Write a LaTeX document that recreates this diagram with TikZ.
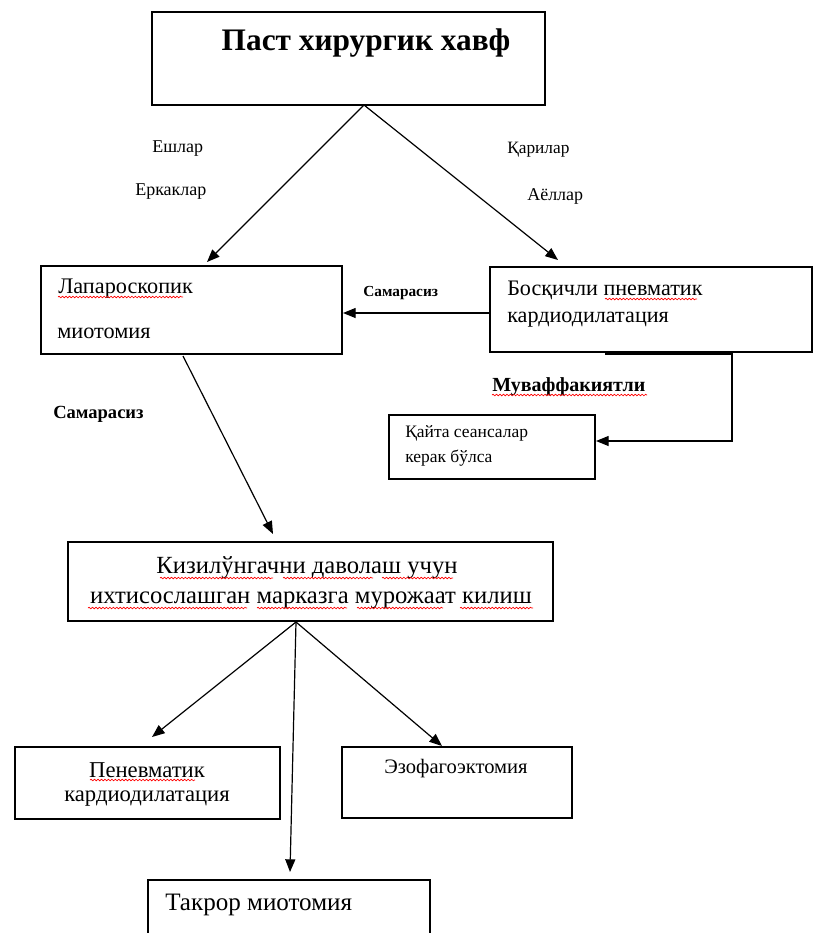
\documentclass[tikz,border=0pt]{standalone}
\usepackage{fontspec}
\setmainfont{Liberation Serif}
\usetikzlibrary{arrows.meta,fit,decorations.pathmorphing}
\tikzset{
  x=0.75pt,y=-0.75pt,
  box/.style={draw,line width=1.1pt,inner sep=0pt},
  txt/.style={inner sep=0pt,font=#1},
  arr/.style={line width=0.9pt,-{Triangle[length=9.5pt,width=7.5pt]}},
  wavy/.style={red,line width=0.5pt,decorate,decoration={snake,amplitude=0.6pt,segment length=2.6pt}}
}
\begin{document}
\begin{tikzpicture}
\useasboundingbox[fill=white] (0,0) rectangle (819,933);
% boxes
\node[box,fit={(152,12) (545,105)}] (top) {};
\node[box,fit={(41,266) (342,354)}] (lap) {};
\node[box,fit={(490,267) (812,352)}] (bos) {};
\node[box,fit={(389,415) (595,479)}] (qay) {};
\node[box,fit={(68,542) (553,621)}] (qiz) {};
\node[box,fit={(15,747) (280,819)}] (pnev) {};
\node[box,fit={(342,747) (572,818)}] (ezof) {};
\node[box,fit={(148,880) (430,945)}] (tak) {};
% texts
\node[txt=\fontsize{23.5}{27}\selectfont\bfseries,anchor=base] (ttop) at (366,50) {Паст хирургик хавф};
\node[txt=\fontsize{13.5}{16}\selectfont,anchor=base west] (t1) at (152,152) {Ешлар};
\node[txt=\fontsize{13.5}{16}\selectfont,anchor=base west] (t2) at (135,195) {Еркаклар};
\node[txt=\fontsize{13}{16}\selectfont,anchor=base west] (t3) at (507,153) {Қарилар};
\node[txt=\fontsize{13.5}{16}\selectfont,anchor=base west] (t4) at (527,200) {Аёллар};
\node[txt=\fontsize{11.5}{13}\selectfont\bfseries,anchor=base west] (tsam1) at (363,296) {Самарасиз};
\node[txt=\fontsize{16.7}{19}\selectfont,anchor=base west] (tlap1) at (58,293) {Лапароскопик};
\node[txt=\fontsize{16.7}{19}\selectfont,anchor=base west] (tlap2) at (57,338) {миотомия};
\node[txt=\fontsize{16.6}{19}\selectfont,anchor=base west] (tbos1) at (507,295) {Босқичли пневматик};
\node[txt=\fontsize{16.6}{19}\selectfont,anchor=base west] (tbos2) at (507,322) {кардиодилатация};
\node[txt=\fontsize{15}{18}\selectfont\bfseries,anchor=base west] (tmuv) at (492,391) {Муваффакиятли};
\node[txt=\fontsize{13.1}{15}\selectfont,anchor=base west] (tqay1) at (405,437) {Қайта сеансалар};
\node[txt=\fontsize{13.1}{15}\selectfont,anchor=base west] (tqay2) at (405,462) {керак бўлса};
\node[txt=\fontsize{13.9}{16}\selectfont\bfseries,anchor=base west] (tsam2) at (53,418) {Самарасиз};
\node[txt=\fontsize{18.5}{22}\selectfont,anchor=base] (tqiz1) at (307,573) {Кизилўнгачни даволаш учун};
\node[txt=\fontsize{18.5}{22}\selectfont,anchor=base] (tqiz2) at (311,603) {ихтисослашган марказга мурожаат килиш};
\node[txt=\fontsize{17}{20}\selectfont,anchor=base] (tpn1) at (147,777) {Пеневматик};
\node[txt=\fontsize{17}{20}\selectfont,anchor=base] (tpn2) at (147,801) {кардиодилатация};
\node[txt=\fontsize{15.4}{18}\selectfont,anchor=base] (tez) at (456,773) {Эзофагоэктомия};
\node[txt=\fontsize{18.8}{22}\selectfont,anchor=base west] (ttak) at (165,910) {Такрор миотомия};
% spell-check underlines
\draw[wavy] (58,297) -- (183,297);
\draw[wavy] (605,299) -- (697,299);
\draw[wavy] (492,395) -- (647,395);
\draw[wavy] (160,578) -- (273,578);
\draw[wavy] (283,578) -- (373,578);
\draw[wavy] (382,578) -- (453,578);
\draw[wavy] (88,608) -- (247,608);
\draw[wavy] (257,608) -- (347,608);
\draw[wavy] (357,608) -- (443,608);
\draw[wavy] (460,608) -- (533,608);
\draw[wavy] (90,780) -- (195,780);
% connectors
\coordinate (apex) at (364,105);
\coordinate (lapin) at (207,262);
\coordinate (bosin) at (558,260);
\draw[arr] (apex) -- (lapin);
\draw[arr] (apex) -- (bosin);
\coordinate (bosout) at (490,313);
\coordinate (lapout) at (343,313);
\draw[arr] (bosout) -- (lapout);
\draw[line width=2pt] (605,354) -- (733,354);
\coordinate (bosdown) at (732,354);
\coordinate (qayin) at (596,441);
\draw[arr] (bosdown) |- (qayin);
\coordinate (lapbot) at (183,356);
\coordinate (qiztop) at (273,534);
\draw[arr] (lapbot) -- (qiztop);
\coordinate (qizbot) at (296,622);
\coordinate (pnevin) at (152,737);
\coordinate (takin) at (290,872);
\coordinate (ezofin) at (442,746);
\draw[arr] (qizbot) -- (pnevin);
\draw[arr] (qizbot) -- (takin);
\draw[arr] (qizbot) -- (ezofin);
\end{tikzpicture}
\end{document}
